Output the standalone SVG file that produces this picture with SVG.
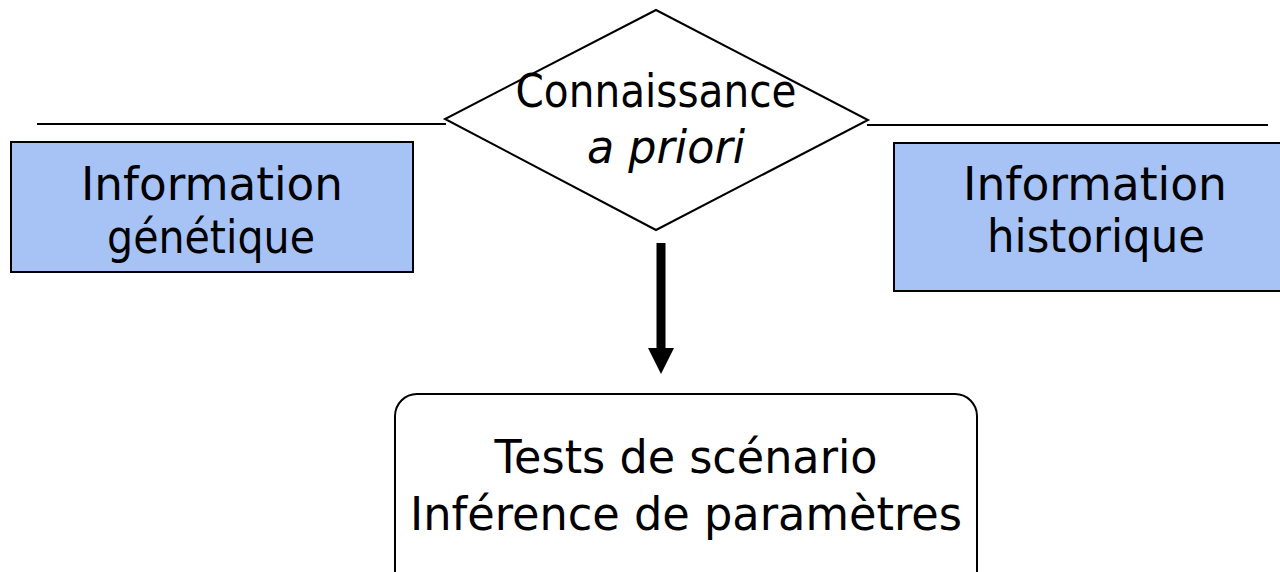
<svg xmlns="http://www.w3.org/2000/svg" width="1280" height="572" viewBox="0 0 1280 572">
  <style>
    .lbl { font-family: "DejaVu Sans", "Liberation Sans", sans-serif; font-size: 47px; fill: #000; text-anchor: middle; }
    .it { font-style: italic; }
    .info { fill: #a7c3f5; stroke: #000; stroke-width: 2; }
    .rule { stroke: #000; stroke-width: 2; fill: none; }
  </style>

  <g id="connectors">
    <line class="rule" x1="37" y1="124" x2="446" y2="124"/>
    <line class="rule" x1="867" y1="125" x2="1268" y2="125"/>
    <line x1="661" y1="243" x2="661" y2="350" stroke="#000" stroke-width="9"/>
    <path d="M648,348 L674,348 L661,374 Z" fill="#000"/>
  </g>

  <g id="prior">
    <polygon points="656,10 868,120 656,230 445,119" fill="#fff" stroke="#000" stroke-width="2"/>
    <text class="lbl" x="656" y="107" textLength="281" lengthAdjust="spacingAndGlyphs">Connaissance</text>
    <text class="lbl it" x="666" y="163" textLength="158" lengthAdjust="spacingAndGlyphs">a priori</text>
  </g>

  <g id="genetic">
    <rect class="info" x="11" y="142" width="402" height="130"/>
    <text class="lbl" x="212" y="200" textLength="262" lengthAdjust="spacingAndGlyphs">Information</text>
    <text class="lbl" x="211" y="253" textLength="208" lengthAdjust="spacingAndGlyphs">génétique</text>
  </g>

  <g id="historical">
    <rect class="info" x="894" y="143" width="390" height="148"/>
    <text class="lbl" x="1095" y="200" textLength="264" lengthAdjust="spacingAndGlyphs">Information</text>
    <text class="lbl" x="1096" y="252" textLength="218" lengthAdjust="spacingAndGlyphs">historique</text>
  </g>

  <g id="inference">
    <rect x="395" y="394" width="582" height="200" rx="22" ry="22" fill="#fff" stroke="#000" stroke-width="2"/>
    <text class="lbl" x="686" y="473" textLength="383" lengthAdjust="spacingAndGlyphs">Tests de scénario</text>
    <text class="lbl" x="686" y="530" textLength="552" lengthAdjust="spacingAndGlyphs">Inférence de paramètres</text>
  </g>
</svg>
